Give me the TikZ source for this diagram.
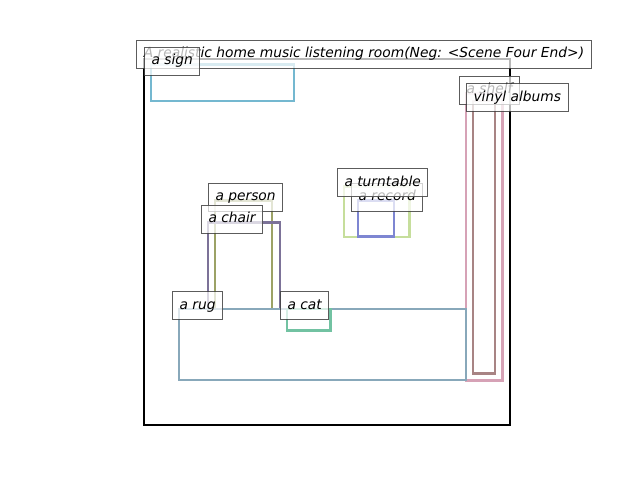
\documentclass[tikz,border=0pt]{standalone}
\usepackage{fontspec}
\setmainfont{DejaVu Sans}
\definecolor{csign}{HTML}{74B8D0}
\definecolor{cshelf}{HTML}{D6A2B6}
\definecolor{cvinyl}{HTML}{A88484}
\definecolor{cperson}{HTML}{9CA266}
\definecolor{cchair}{HTML}{7C7298}
\definecolor{cturn}{HTML}{C6DE9C}
\definecolor{crecord}{HTML}{7E86D2}
\definecolor{crug}{HTML}{88A8BA}
\definecolor{ccat}{HTML}{72C2A2}
\begin{document}
\begin{tikzpicture}[x=1pt,y=-1pt,
  objbox/.style={line width=2.8pt},
  lbl/.style={draw=black!75, draw opacity=0.85, fill=white, fill opacity=0.72, text opacity=1,
    line width=1pt, font=\fontsize{13.8}{16}\selectfont\itshape,
    inner xsep=7pt, inner ysep=7pt, text height=10.5pt, text depth=3.4pt, anchor=base west}]
\useasboundingbox (0,0) rectangle (640,480);
% frame
\draw[line width=2.2pt] (144,59) rectangle (510,425);
% object boxes
\draw[objbox, csign] (151,64.6) rectangle (294,101);
\draw[objbox, cshelf] (466,93.6) rectangle (502.5,380.5);
\draw[objbox, cvinyl] (473,101) rectangle (495,373.5);
\draw[objbox, cperson] (215,200.6) rectangle (272,309);
\draw[objbox, cchair] (208,222.6) rectangle (280,309);
\draw[objbox, cturn] (344,186.3) rectangle (409.5,237);
\draw[objbox, crecord] (358,200.6) rectangle (394,236.5);
\draw[objbox, crug] (179,309) rectangle (466,380);
\draw[objbox, ccat] (287,309) rectangle (330.5,330.5);
% labels
\node[lbl, anchor=base] (title) at (364,57.6) {A realistic home music listening room(Neg: <Scene Four End>)};
\node[lbl] (sign) at (144,64.6) {a sign};
\node[lbl] (shelf) at (459,93.6) {a shelf};
\node[lbl] (vinyl) at (466,101) {vinyl albums};
\node[lbl] (record) at (351,200.6) {a record};
\node[lbl] (turn) at (337,186.3) {a turntable};
\node[lbl] (person) at (208,200.6) {a person};
\node[lbl] (chair) at (201,222.6) {a chair};
\node[lbl] (rug) at (172,309) {a rug};
\node[lbl] (cat) at (280,309) {a cat};
\end{tikzpicture}
\end{document}
